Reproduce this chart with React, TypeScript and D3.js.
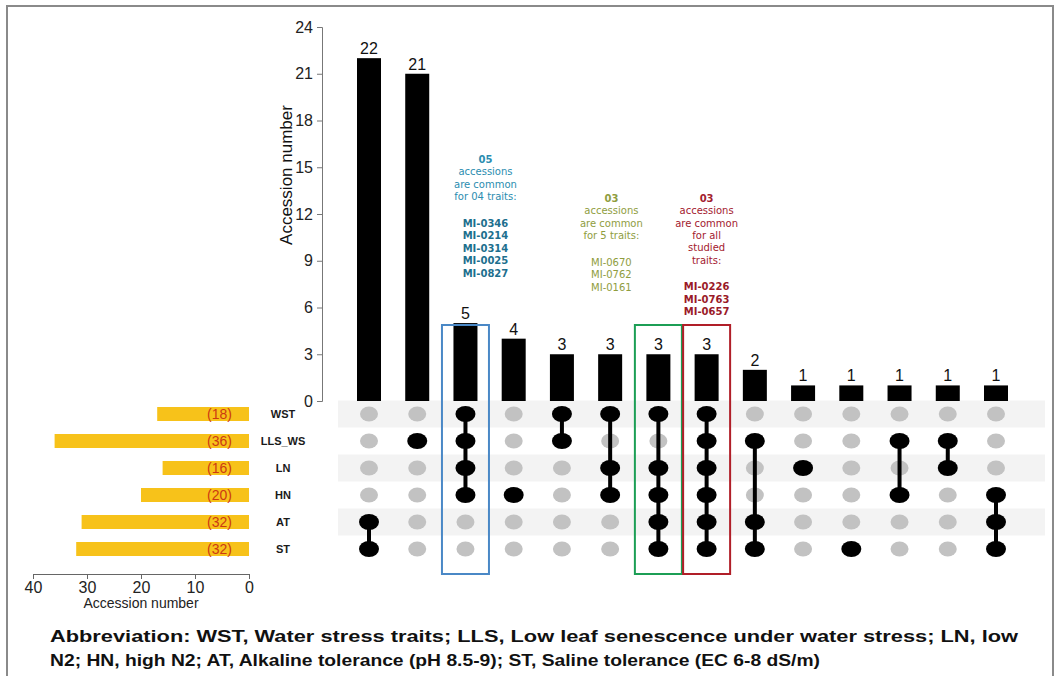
import React, { useEffect, useRef } from "react";
import * as d3 from "d3";

// sets (rows of the matrix), top to bottom
const sets = ["WST", "LLS_WS", "LN", "HN", "AT", "ST"];
const setLabels = ["(18)", "(36)", "(16)", "(20)", "(32)", "(32)"];

// intersections, left to right
const counts = [22, 21, 5, 4, 3, 3, 3, 3, 2, 1, 1, 1, 1, 1];
const members = [
  ["AT", "ST"],
  ["LLS_WS"],
  ["WST", "LLS_WS", "LN", "HN"],
  ["HN"],
  ["WST", "LLS_WS"],
  ["WST", "LN", "HN"],
  ["WST", "LN", "HN", "AT", "ST"],
  ["WST", "LLS_WS", "LN", "HN", "AT", "ST"],
  ["LLS_WS", "AT", "ST"],
  ["LN"],
  ["ST"],
  ["LLS_WS", "HN"],
  ["LLS_WS", "LN"],
  ["HN", "AT", "ST"],
];

const yTicks = [0, 3, 6, 9, 12, 15, 18, 21, 24];
const setTicks = [0, 10, 20, 30, 40];

const notes = [
  {
    col: 2,
    color: "#2b8db0",
    strong: "#1d6f8e",
    box: "#4a88c6",
    head: ["05", "accessions", "are common", "for 04 traits:"],
    ids: ["MI-0346", "MI-0214", "MI-0314", "MI-0025", "MI-0827"],
    top: 163,
    shift: 20,
  },
  {
    col: 6,
    color: "#8f9d3e",
    strong: "#8f9d3e",
    box: "#1c9e55",
    head: ["03", "accessions", "are common", "for 5 traits:"],
    ids: ["MI-0670", "MI-0762", "MI-0161"],
    top: 202,
    shift: -47,
  },
  {
    col: 7,
    color: "#a3202e",
    strong: "#9a1a28",
    box: "#b01e28",
    head: ["03", "accessions", "are common", "for all", "studied", "traits:"],
    ids: ["MI-0226", "MI-0763", "MI-0657"],
    top: 202,
    shift: 0,
  },
];

const footer = [
  "Abbreviation: WST, Water stress traits; LLS, Low leaf senescence under water stress; LN, low",
  "N2; HN, high N2; AT, Alkaline tolerance (pH 8.5-9); ST, Saline tolerance (EC 6-8 dS/m)",
];

export default function App() {
  const svgRef = useRef<SVGSVGElement>(null);

  useEffect(() => {
    document.body.style.margin = "0";
    const svg = d3.select(svgRef.current);
    svg.selectAll("*").remove();
    const font = "Liberation Sans, Arial, sans-serif";

    // frame
    svg.append("rect")
      .attr("x", 7).attr("y", 6).attr("width", 1046).attr("height", 690)
      .attr("fill", "none").attr("stroke", "#8a8a8a").attr("stroke-width", 2);

    const x = d3.scalePoint<number>().domain(d3.range(counts.length)).range([369, 996]);
    const y = d3.scaleLinear().domain([0, 24]).range([401, 27]);
    const row = d3.scalePoint<string>().domain(sets).range([414, 549]);
    const xs = d3.scaleLinear().domain([0, 40]).range([249, 33]);

    // row stripes
    svg.append("g").selectAll("rect")
      .data(sets.filter((_, i) => i % 2 === 0))
      .join("rect")
      .attr("x", 338).attr("width", 707)
      .attr("y", d => row(d)! - 13.5).attr("height", 27)
      .attr("fill", "#f3f3f3");

    // y axis
    const ax = svg.append("g").attr("transform", "translate(322,0)")
      .call(d3.axisLeft(y).tickValues(yTicks).tickSize(5).tickPadding(4));
    ax.select(".domain").attr("stroke", "#777");
    ax.selectAll(".tick line").attr("stroke", "#777");
    ax.selectAll("text").attr("font-size", 16).attr("font-family", font).attr("fill", "#222");

    svg.append("text")
      .attr("transform", "translate(292,175) rotate(-90)")
      .attr("text-anchor", "middle").attr("font-size", 17).attr("font-family", font)
      .attr("fill", "#111").text("Accession number");

    // bars
    svg.append("g").selectAll("rect")
      .data(counts).join("rect")
      .attr("x", (_, i) => x(i)! - 12).attr("width", 24)
      .attr("y", d => y(d)).attr("height", d => y(0) - y(d))
      .attr("fill", "#000");

    svg.append("g").selectAll("text")
      .data(counts).join("text")
      .attr("x", (_, i) => x(i)!).attr("y", d => y(d) - 4)
      .attr("text-anchor", "middle").attr("font-size", 16).attr("font-family", font)
      .attr("fill", "#111").text(d => d);

    // matrix: grey dots, then connecting lines, then black dots
    const mat = svg.append("g");
    counts.forEach((_, i) => {
      const m = members[i];
      sets.filter(s => !m.includes(s)).forEach(s => {
        mat.append("ellipse")
          .attr("cx", x(i)!).attr("cy", row(s)!)
          .attr("rx", 9).attr("ry", 7.5).attr("fill", "#c2c2c2");
      });
      const ys = m.map(s => row(s)!);
      if (ys.length > 1) {
        mat.append("line")
          .attr("x1", x(i)!).attr("x2", x(i)!)
          .attr("y1", d3.min(ys)!).attr("y2", d3.max(ys)!)
          .attr("stroke", "#000").attr("stroke-width", 4);
      }
      m.forEach(s => {
        mat.append("ellipse")
          .attr("cx", x(i)!).attr("cy", row(s)!)
          .attr("rx", 10).attr("ry", 8).attr("fill", "#000");
      });
    });

    // set-size bars on the left
    const setSize = (s: string) => d3.sum(counts.filter((_, i) => members[i].includes(s)));
    svg.append("g").selectAll("rect")
      .data(sets).join("rect")
      .attr("x", s => xs(setSize(s))).attr("y", s => row(s)! - 7)
      .attr("width", s => xs(0) - xs(setSize(s)))
      .attr("height", 14)
      .attr("fill", "#f7c21a");

    svg.append("g").selectAll("text")
      .data(sets).join("text")
      .attr("x", 232).attr("y", s => row(s)! + 5)
      .attr("text-anchor", "end").attr("font-size", 14).attr("font-family", font)
      .attr("fill", "#cc3a12").text((_, i) => setLabels[i]);

    svg.append("g").selectAll("text")
      .data(sets).join("text")
      .attr("x", 283).attr("y", s => row(s)! + 4)
      .attr("text-anchor", "middle").attr("font-size", 11).attr("font-weight", "bold")
      .attr("font-family", font).attr("fill", "#1a1a1a").text(s => s);

    const sx = svg.append("g").attr("transform", "translate(0,574)")
      .call(d3.axisBottom(xs).tickValues(setTicks).tickSize(5).tickPadding(3));
    sx.select(".domain").attr("stroke", "#666");
    sx.selectAll(".tick line").attr("stroke", "#666");
    sx.selectAll("text").attr("font-size", 16).attr("font-family", font).attr("fill", "#222");

    svg.append("text")
      .attr("x", 141).attr("y", 608).attr("text-anchor", "middle")
      .attr("font-size", 14).attr("font-family", font).attr("fill", "#222")
      .text("Accession number");

    // highlight boxes and notes
    notes.forEach(n => {
      svg.append("rect")
        .attr("x", x(n.col)! - 23.5).attr("y", 325)
        .attr("width", 47).attr("height", 249)
        .attr("fill", "none").attr("stroke", n.box).attr("stroke-width", 2);

      const cx = x(n.col)! + n.shift;
      const t = svg.append("text").attr("font-family", "DejaVu Sans, Verdana, sans-serif")
        .attr("font-size", 10).attr("text-anchor", "middle");
      n.head.forEach((line, k) => {
        t.append("tspan").attr("x", cx).attr("y", n.top + k * 12.3)
          .attr("fill", n.color).attr("font-weight", k === 0 ? "bold" : "normal").text(line);
      });
      const idTop = n.top + (n.head.length + 1) * 12.3 + 2;
      n.ids.forEach((line, k) => {
        t.append("tspan").attr("x", cx).attr("y", idTop + k * 12.6)
          .attr("fill", n.strong).attr("font-weight", n.col === 6 ? "normal" : "bold").text(line);
      });
    });

    // footer
    footer.forEach((line, k) => {
      svg.append("text")
        .attr("x", 50).attr("y", 642 + k * 24)
        .attr("font-size", 17).attr("font-weight", "bold")
        .attr("font-family", "Liberation Sans Narrow, Liberation Sans, Arial, sans-serif")
        .attr("fill", "#111")
        .attr("textLength", k === 0 ? 968 : 770).attr("lengthAdjust", "spacingAndGlyphs")
        .text(line);
    });
  }, []);

  return <svg ref={svgRef} width={1061} height={676} style={{ display: "block" }} />;
}
